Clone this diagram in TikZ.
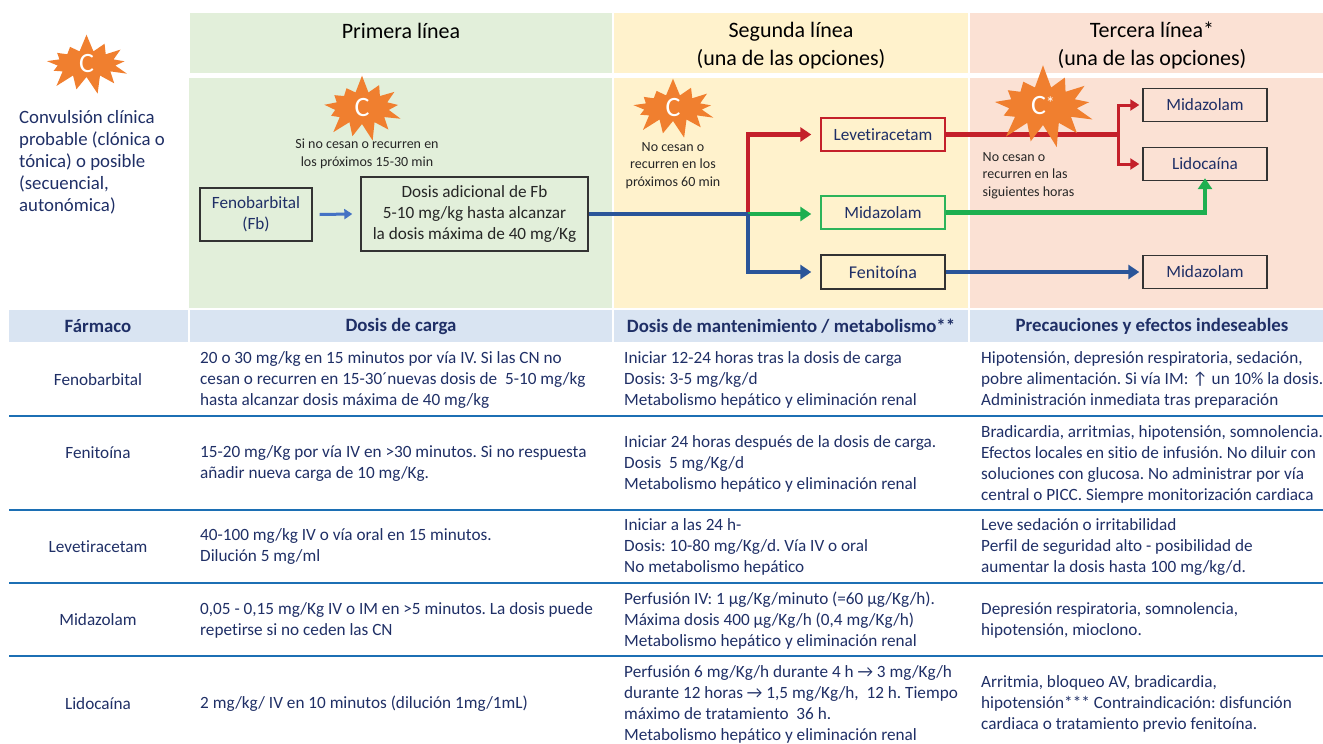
\documentclass[tikz,border=0pt]{standalone}
\usepackage{fontspec}
\setmainfont{Carlito}[Ligatures={NoCommon}]
\usetikzlibrary{arrows.meta,shapes.symbols}
\frenchspacing
\definecolor{navy}{HTML}{1F2F66}
\definecolor{panelgreen}{HTML}{E2EFDA}
\definecolor{panelyellow}{HTML}{FFF2CC}
\definecolor{panelpeach}{HTML}{FBE1D4}
\definecolor{headblue}{HTML}{D9E4F2}
\definecolor{rulecolor}{HTML}{1C6FB4}
\definecolor{burstorange}{HTML}{F07F2F}
\definecolor{linered}{HTML}{C4202A}
\definecolor{linegreen}{HTML}{1DAF50}
\definecolor{lineblue}{HTML}{2A5599}
\definecolor{lineblight}{HTML}{4472C4}
\definecolor{boxgreen}{HTML}{2DB45A}
\tikzset{
  cell/.style={align=left, anchor=west, inner sep=0pt, text=navy, font=\fontsize{17.2}{21}\selectfont},
  drug/.style={align=center, anchor=center, inner sep=0pt, text=navy, font=\fontsize{17.2}{21}\selectfont},
  head/.style={align=center, inner sep=0pt, text=navy, font=\fontsize{18.8}{21}\selectfont\bfseries},
  title/.style={align=center, inner sep=0pt, text=black, font=\fontsize{22}{28}\selectfont},
  small/.style={inner sep=0pt, text=black!85, font=\fontsize{14}{17.5}\selectfont},
  box/.style={draw=#1, line width=1.4pt, inner sep=0pt, align=center, text=navy, font=\fontsize{17.2}{21}\selectfont},
  burst/.style={starburst, starburst points=13, starburst point height=#1, random starburst=7,
    fill=burstorange, draw=none, inner sep=0pt, text=white, font=\fontsize{28}{28}\selectfont},
  arrow/.style={draw=#1, line width=4.5pt, -{Triangle[length=11pt,width=14pt]}},
  plain/.style={draw=#1, line width=4.5pt}
}
\begin{document}
\begin{tikzpicture}[x=1pt, y=-1pt]
    \useasboundingbox (0,0) rectangle (1323,744);

    % panels
    \fill[panelgreen]  (190,13) rectangle (612,73);
    \fill[panelyellow] (614,13) rectangle (968,73);
    \fill[panelpeach]  (970,13) rectangle (1323,73);
    \fill[panelgreen]  (189,78) rectangle (612,308);
    \fill[panelyellow] (614,78) rectangle (968,308);
    \fill[panelpeach]  (970,78) rectangle (1323,308);
    \fill[headblue] (9,310)   rectangle (188,342);
    \fill[headblue] (190,310) rectangle (612,342);
    \fill[headblue] (614,310) rectangle (968,342);
    \fill[headblue] (970,310) rectangle (1323,342);

    \node[title] at (401,31) (first)  {Primera línea};
    \node[title] at (791,45.5) (second) {Segunda línea\\(una de las opciones)};
    \node[title] at (1152,45.5) (third) {Tercera línea*\\(una de las opciones)};

    % left text
    \node[cell, font=\fontsize{18.8}{22}\selectfont] at (19,162) (onset) {Convulsión clínica\\probable (clónica o\\tónica) o posible\\(secuencial,\\autonómica)};

    % boxes
    \node[box=black!80, minimum width=112pt, minimum height=53pt] at (256,214.5) (fenob) {Fenobarbital\\(Fb)};
    \node[box=black!80, text=black!85, minimum width=227pt, minimum height=74pt] at (474.5,214) (extra) {Dosis adicional de Fb\\5-10 mg/kg hasta alcanzar\\la dosis máxima de 40 mg/Kg};
    \node[box=linered, minimum width=124pt, minimum height=33pt] at (883,134.5) (leve) {Levetiracetam};
    \node[box=boxgreen, minimum width=124pt, minimum height=33pt] at (883,212.5) (mida) {Midazolam};
    \node[box=black!80, minimum width=124pt, minimum height=34pt, font=\fontsize{18}{21}\selectfont] at (883,272) (feni) {Fenitoína};
    \node[box=black!80, minimum width=124pt, minimum height=33pt] at (1205,105) (mida_a) {Midazolam};
    \node[box=black!80, minimum width=124pt, minimum height=33pt] at (1205,164) (lido) {Lidocaína};
    \node[box=black!80, minimum width=124pt, minimum height=33pt] at (1205,272) (mida_b) {Midazolam};

    \coordinate (split) at (748,214);
    \coordinate (fork)  at (1118,134.5);

    % connectors
    \draw[arrow=lineblight, line width=3pt, -{Triangle[length=8pt,width=10pt]}] ([xshift=7pt]fenob.east) -- ([xshift=-8pt]extra.west);
    \draw[arrow=linered] (split) |- ([xshift=-9pt]leve.west);
    \draw[arrow=linegreen] (split) -- ([xshift=-9pt]split -| mida.west);
    \draw[arrow=lineblue] (split) |- ([xshift=-9pt]feni.west);
    \draw[plain=lineblue] (extra.east) -- (split);
    \draw[plain=linered] (leve.east) -- (fork);
    \draw[arrow=linered, line width=3pt, -{Triangle[length=9pt,width=11pt]}] (fork) |- ([xshift=-3pt]mida_a.west);
    \draw[arrow=linered, line width=3pt, -{Triangle[length=9pt,width=11pt]}] (fork) |- ([xshift=-3pt]lido.west);
    \draw[arrow=linegreen] (mida.east) -- (mida.east -| lido.south) -- ([yshift=3pt]lido.south);
    \draw[arrow=lineblue] (feni.east) -- ([xshift=-3pt]mida_b.west);

    % bursts
    \node[burst=18pt, minimum width=94pt, minimum height=62pt] at (86.5,64) (burst_a) {C};
    \node[burst=18pt, minimum width=90pt, minimum height=68pt] at (362,108) (burst_b) {C};
    \node[burst=18pt, minimum width=94pt, minimum height=61pt] at (673,108) (burst_c) {C};
    \node[burst=24pt, minimum width=116pt, minimum height=86pt] at (1043,106) (burst_d) {C\raisebox{5pt}{\fontsize{18}{18}\selectfont*}};

    \node[small, align=center] at (367,154) (cease_a) {Si no cesan o recurren en\\los próximos 15-30 min};
    \node[small, align=center] at (673,165.5) (cease_b) {No cesan o\\recurren en los\\próximos 60 min};
    \node[small, align=left, anchor=west] at (982.5,175.5) (cease_c) {No cesan o\\recurren en las\\siguientes horas};

    % table
    \foreach \y in {416,510,583,656} {
      \draw[rulecolor, line width=1.5pt] (9,\y) -- (1323,\y);
    }
    \node[head] at (98,326.5) (h_drug) {Fármaco};
    \node[head] at (401,326.5) (h_load) {Dosis de carga};
    \node[head] at (791,326.5) (h_main) {Dosis de mantenimiento / metabolismo**};
    \node[head] at (1152,326.5) (h_care) {Precauciones y efectos indeseables};

    \node[drug] at (98,380) (fb_name) {Fenobarbital};
    \node[cell] at (200,380) (fb_load) {20 o 30 mg/kg en 15 minutos por vía IV. Si las CN no\\cesan o recurren en 15-30´nuevas dosis de\ \ 5-10 mg/kg\\hasta alcanzar dosis máxima de 40 mg/kg};
    \node[cell] at (624,380) (fb_main) {Iniciar 12-24 horas tras la dosis de carga\\Dosis: 3-5 mg/kg/d\\Metabolismo hepático y eliminación renal};
    \node[cell] at (981,380) (fb_care) {Hipotensión, depresión respiratoria, sedación,\\pobre alimentación. Si vía IM: ↑ un 10\% la dosis.\\Administración inmediata tras preparación};

    \node[drug] at (98,453) (ph_name) {Fenitoína};
    \node[cell] at (200,464) (ph_load) {15-20 mg/Kg por vía IV en >30 minutos. Si no respuesta\\añadir nueva carga de 10 mg/Kg.};
    \node[cell] at (624,464) (ph_main) {Iniciar 24 horas después de la dosis de carga.\\Dosis\ \ 5 mg/Kg/d\\Metabolismo hepático y eliminación renal};
    \node[cell] at (981,464) (ph_care) {Bradicardia, arritmias, hipotensión, somnolencia.\\Efectos locales en sitio de infusión. No diluir con\\soluciones con glucosa. No administrar por vía\\central o PICC. Siempre monitorización cardiaca};

    \node[drug] at (98,547) (lv_name) {Levetiracetam};
    \node[cell] at (200,547) (lv_load) {40-100 mg/kg IV o vía oral en 15 minutos.\\Dilución 5 mg/ml};
    \node[cell] at (624,547) (lv_main) {Iniciar a las 24 h-\\Dosis: 10-80 mg/Kg/d. Vía IV o oral\\No metabolismo hepático};
    \node[cell] at (981,547) (lv_care) {Leve sedación o irritabilidad\\Perfil de seguridad alto - posibilidad de\\aumentar la dosis hasta 100 mg/kg/d.};

    \node[drug] at (98,620) (mz_name) {Midazolam};
    \node[cell] at (200,620) (mz_load) {0,05 - 0,15 mg/Kg IV o IM en >5 minutos. La dosis puede\\repetirse si no ceden las CN};
    \node[cell] at (624,621) (mz_main) {Perfusión IV: 1 µg/Kg/minuto (=60 µg/Kg/h).\\Máxima dosis 400 µg/Kg/h (0,4 mg/Kg/h)\\Metabolismo hepático y eliminación renal};
    \node[cell] at (981,620) (mz_care) {Depresión respiratoria, somnolencia,\\hipotensión, mioclono.};

    \node[drug] at (98,704) (ld_name) {Lidocaína};
    \node[cell] at (200,704) (ld_load) {2 mg/kg/ IV en 10 minutos (dilución 1mg/1mL)};
    \node[cell] at (624,704) (ld_main) {Perfusión 6 mg/Kg/h durante 4 h → 3 mg/Kg/h\\durante 12 horas → 1,5 mg/Kg/h,\ \ 12 h. Tiempo\\máximo de tratamiento\ \ 36 h.\\Metabolismo hepático y eliminación renal};
    \node[cell] at (981,704) (ld_care) {Arritmia, bloqueo AV, bradicardia,\\hipotensión*** Contraindicación: disfunción\\cardiaca o tratamiento previo fenitoína.};
  \end{tikzpicture}
\end{document}
